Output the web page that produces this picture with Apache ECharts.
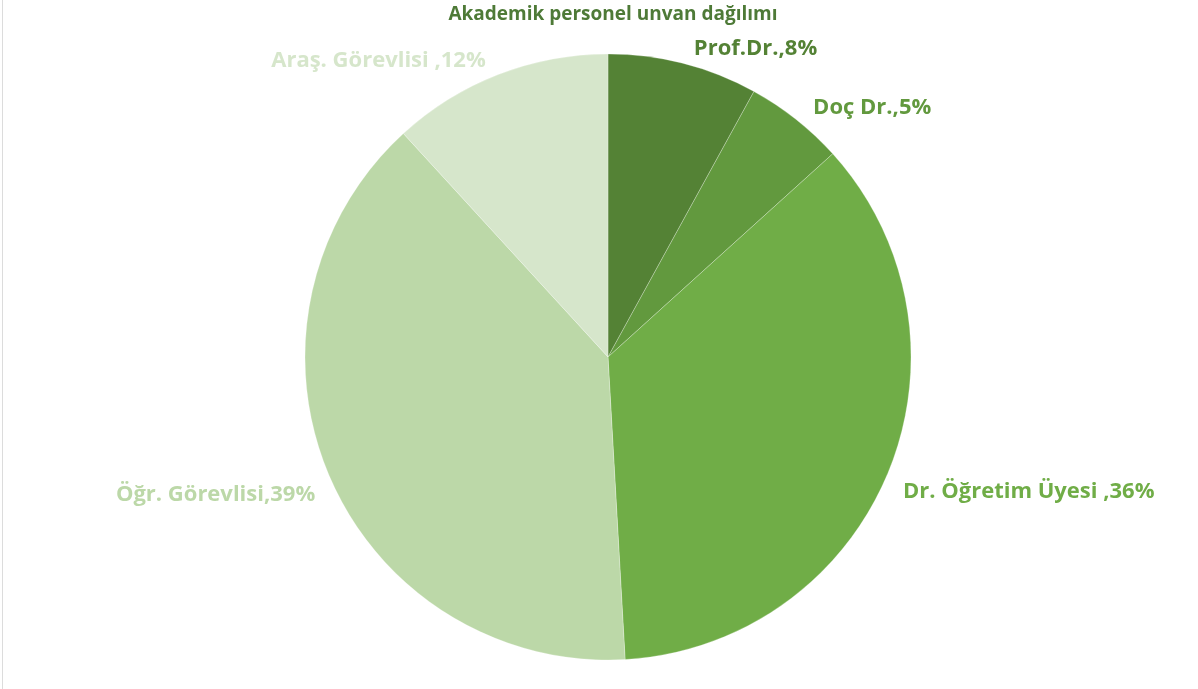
<!DOCTYPE html>
<html><head><meta charset="utf-8">
<script src="https://cdn.jsdelivr.net/npm/echarts@6/dist/echarts.min.js"></script>
<style>html,body{margin:0;padding:0;background:#fff}#c{width:1198px;height:689px;box-sizing:border-box;border-left:1px solid #dcdcdc;margin-left:2px}</style>
</head><body><div id="c"></div>
<script>
const categories = ['Prof.Dr.', 'Doç Dr.', 'Dr. Öğretim Üyesi ', 'Öğr. Görevlisi', 'Araş. Görevlisi '];
const values = [8.0, 5.3, 35.8, 39.1, 11.8];
const colors = ['#548235', '#62993e', '#70ad47', '#bcd8a8', '#d6e6cb'];
const title = 'Akademik personel unvan dağılımı';

const chart = echarts.init(document.getElementById('c'));
chart.setOption({
  animation: false,
  title: {text: title, left: 605, top: 0, textAlign: 'center',
    textStyle: {fontFamily: 'Open Sans', fontSize: 19, fontWeight: 'bold', color: '#4e7a37'}},
  series: [{
    type: 'pie', center: [605, 357], radius: [0, 303], startAngle: 90, clockwise: true,
    percentPrecision: 0,
    data: categories.map((n, i) => ({name: n, value: values[i],
      itemStyle: {color: colors[i]},
      label: {color: colors[i]}})),
    itemStyle: {borderColor: 'rgba(255,255,255,0.5)', borderWidth: 0.5},
    label: {show: true, position: 'outside', fontFamily: 'Open Sans', fontSize: 22, fontWeight: 'bold',
      formatter: p => p.name + ',' + Math.round(p.percent) + '%', distanceToLabelLine: 2},
    labelLine: {show: false, length: 18, length2: 4},
    labelLayout: function (p) {
      const r = p.labelRect;
      const cy = r.y + r.height / 2, cx = r.x + r.width / 2;
      const below = cy > 357;
      const right = cx > 605;
      return below ? {dx: right ? -8 : 9, dy: 13} : {dy: 3};
    },
    emphasis: {disabled: true}
  }]
});
</script></body></html>
